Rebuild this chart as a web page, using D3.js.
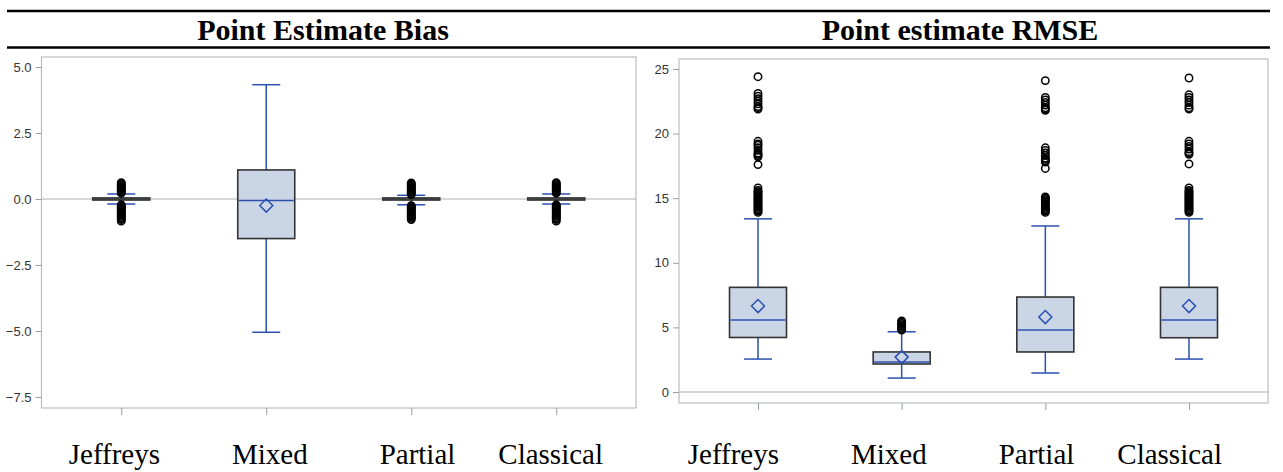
<!DOCTYPE html>
<html>
<head>
<meta charset="utf-8">
<script src="https://cdn.jsdelivr.net/npm/d3@7"></script>
<style>
  body { margin: 0; background: #fff; }
  svg { display: block; }
</style>
</head>
<body>
<script>
// categories shared by both panels
var categories = ["Jeffreys", "Mixed", "Partial", "Classical"];

// Point Estimate Bias (left)
var biasLow    = [-0.19, -5.05, -0.22, -0.19];
var biasQ1     = [-0.04, -1.50, -0.04, -0.04];
var biasMedian = [0.00, -0.06, 0.00, 0.00];
var biasMean   = [0.00, -0.25, 0.00, 0.00];
var biasQ3     = [0.04, 1.10, 0.04, 0.04];
var biasHigh   = [0.19, 4.33, 0.14, 0.19];
var biasOutliers = [
    [0.22, 0.26, 0.3, 0.34, 0.38, 0.42, 0.46, 0.5, 0.54, 0.58, 0.62,
     -0.22, -0.26, -0.3, -0.34, -0.38, -0.42, -0.46, -0.5, -0.54, -0.58, -0.62, -0.66, -0.7, -0.74, -0.78, -0.84],
    [],
    [0.17, 0.21, 0.25, 0.29, 0.33, 0.37, 0.41, 0.45, 0.49, 0.53, 0.57, 0.61,
     -0.25, -0.29, -0.33, -0.37, -0.41, -0.45, -0.49, -0.53, -0.57, -0.61, -0.65, -0.69, -0.73, -0.78],
    [0.22, 0.26, 0.3, 0.34, 0.38, 0.42, 0.46, 0.5, 0.54, 0.58, 0.62,
     -0.22, -0.26, -0.3, -0.34, -0.38, -0.42, -0.46, -0.5, -0.54, -0.58, -0.62, -0.66, -0.7, -0.74, -0.78, -0.84]
];
var biasTicks = [5.0, 2.5, 0, -2.5, -5.0, -7.5];

// Point estimate RMSE (right)
var rmseLow    = [2.55, 1.08, 1.47, 2.55];
var rmseQ1     = [4.22, 2.17, 3.10, 4.20];
var rmseMedian = [5.57, 2.32, 4.80, 5.57];
var rmseMean   = [6.65, 2.70, 5.80, 6.65];
var rmseQ3     = [8.10, 3.10, 7.35, 8.10];
var rmseHigh   = [13.40, 4.66, 12.85, 13.40];
var rmseOutliers = [
    [13.9, 14.0, 14.1, 14.2, 14.3, 14.4, 14.5, 14.6, 14.7, 14.8, 14.9, 15.0, 15.1, 15.2, 15.3, 15.4, 15.5, 15.6, 15.8,
     17.6, 18.2, 18.3, 18.4, 18.5, 18.7, 18.9, 19.1, 19.2, 19.4,
     21.9, 22.0, 22.1, 22.3, 22.5, 22.7, 22.9, 23.1, 24.4],
    [4.8, 4.9, 5.0, 5.1, 5.2, 5.3, 5.4, 5.5],
    [13.9, 14.0, 14.1, 14.2, 14.3, 14.4, 14.5, 14.6, 14.7, 14.8, 14.9, 15.0, 15.1,
     17.3, 17.8, 17.9, 18.0, 18.1, 18.3, 18.5, 18.7, 18.9,
     21.8, 21.9, 22.0, 22.2, 22.4, 22.6, 22.8, 24.1],
    [13.9, 14.0, 14.1, 14.2, 14.3, 14.4, 14.5, 14.6, 14.7, 14.8, 14.9, 15.0, 15.1, 15.2, 15.3, 15.4, 15.5, 15.6, 15.8,
     17.65, 18.4, 18.5, 18.6, 18.8, 19.0, 19.2, 19.4,
     21.9, 22.0, 22.2, 22.4, 22.6, 22.8, 23.0, 24.3]
];
var rmseTicks = [0, 5, 10, 15, 20, 25];

var w = 1283, h = 472;

var svg = d3.select("body")
    .append("svg")
    .attr("width", w)
    .attr("height", h);

//table rules across the top
svg.append("line")
    .attr("x1", 7).attr("x2", 1270)
    .attr("y1", 11).attr("y2", 11)
    .style("stroke", "#000").style("stroke-width", 2.5);
svg.append("line")
    .attr("x1", 7).attr("x2", 1270)
    .attr("y1", 47.5).attr("y2", 47.5)
    .style("stroke", "#000").style("stroke-width", 2.5);

var blue = "#2c50b0";

function rows(low, q1, med, mean, q3, high, outs) {
    return categories.map(function (c, i) {
        return { cat: c, low: low[i], q1: q1[i], med: med[i], mean: mean[i], q3: q3[i], high: high[i], outs: outs[i] };
    });
}

function drawPanel(opt) {
    var data = opt.data;
    var g = svg.append("g");

    //title
    g.append("text")
        .attr("x", opt.titleX)
        .attr("y", 40)
        .attr("text-anchor", "middle")
        .style("font-family", "'Liberation Serif', 'Times New Roman', serif")
        .style("font-weight", "bold")
        .style("font-size", "30px")
        .text(opt.title);

    var x = d3.scalePoint()
        .domain(categories)
        .range([opt.left, opt.right])
        .padding(0.55);

    var y = d3.scaleLinear()
        .domain(opt.domain)
        .range([opt.bottom, opt.top]);

    //frame
    g.append("rect")
        .attr("x", opt.left)
        .attr("y", opt.top)
        .attr("width", opt.right - opt.left)
        .attr("height", opt.bottom - opt.top)
        .style("fill", "none")
        .style("stroke", "#b9bdc1")
        .style("stroke-width", 1.2);

    //zero reference line
    g.append("line")
        .attr("x1", opt.left).attr("x2", opt.right)
        .attr("y1", y(0)).attr("y2", y(0))
        .style("stroke", "#a9adb1")
        .style("stroke-width", 1.2);

    //y axis
    var yAxis = d3.axisLeft(y)
        .tickValues(opt.ticks)
        .tickFormat(d3.format(opt.fmt))
        .tickSize(6)
        .tickPadding(4);
    var ya = g.append("g")
        .attr("transform", "translate(" + opt.left + ",0)")
        .call(yAxis);
    ya.select(".domain").remove();
    ya.selectAll("line").style("stroke", "#9a9ea2");
    ya.selectAll("text")
        .style("font-family", "'Liberation Sans', Arial, sans-serif")
        .style("font-size", "13px")
        .style("fill", "#333");

    //x axis ticks only
    var xAxis = d3.axisBottom(x).tickSize(7).tickFormat("");
    var xa = g.append("g")
        .attr("transform", "translate(0," + opt.bottom + ")")
        .call(xAxis);
    xa.select(".domain").remove();
    xa.selectAll("line").style("stroke", "#9a9ea2");

    //category labels row (right-aligned)
    var lx = d3.scalePoint()
        .domain(categories)
        .range(opt.labelRange);
    g.selectAll(".catLabel")
        .data(categories)
        .enter()
        .append("text")
        .attr("class", "catLabel")
        .attr("x", function (d) { return lx(d); })
        .attr("y", 464)
        .attr("text-anchor", "end")
        .style("font-family", "'Liberation Serif', 'Times New Roman', serif")
        .style("font-size", "29px")
        .text(function (d) { return d; });

    var bw = 57, cw = 28;

    var box = g.selectAll(".box")
        .data(data)
        .enter()
        .append("g")
        .attr("class", "box");

    //whiskers
    box.append("line")
        .attr("x1", function (d) { return x(d.cat); })
        .attr("x2", function (d) { return x(d.cat); })
        .attr("y1", function (d) { return y(d.high); })
        .attr("y2", function (d) { return y(d.q3); })
        .style("stroke", blue).style("stroke-width", 1.5);
    box.append("line")
        .attr("x1", function (d) { return x(d.cat); })
        .attr("x2", function (d) { return x(d.cat); })
        .attr("y1", function (d) { return y(d.q1); })
        .attr("y2", function (d) { return y(d.low); })
        .style("stroke", blue).style("stroke-width", 1.5);
    ["high", "low"].forEach(function (k) {
        box.append("line")
            .attr("x1", function (d) { return x(d.cat) - cw / 2; })
            .attr("x2", function (d) { return x(d.cat) + cw / 2; })
            .attr("y1", function (d) { return y(d[k]); })
            .attr("y2", function (d) { return y(d[k]); })
            .style("stroke", blue).style("stroke-width", 1.5);
    });

    //box
    box.append("rect")
        .attr("x", function (d) { return x(d.cat) - bw / 2; })
        .attr("y", function (d) { return y(d.q3); })
        .attr("width", bw)
        .attr("height", function (d) { return y(d.q1) - y(d.q3); })
        .style("fill", "#cad5e5")
        .style("stroke", "#333")
        .style("stroke-width", 1.6);

    //median
    box.append("line")
        .attr("x1", function (d) { return x(d.cat) - bw / 2 + 1; })
        .attr("x2", function (d) { return x(d.cat) + bw / 2 - 1; })
        .attr("y1", function (d) { return y(d.med); })
        .attr("y2", function (d) { return y(d.med); })
        .style("stroke", function (d) { return (y(d.q1) - y(d.q3)) < 5 ? "#333" : blue; })
        .style("stroke-width", 1.5);

    //mean diamond
    box.append("path")
        .attr("d", function (d) {
            var cx = x(d.cat), cy = y(d.mean), r = 6.5;
            return "M" + cx + "," + (cy - r) + "L" + (cx + r) + "," + cy + "L" + cx + "," + (cy + r) + "L" + (cx - r) + "," + cy + "Z";
        })
        .style("fill", "none")
        .style("stroke", blue)
        .style("stroke-width", 1.5)
        .style("display", function (d) { return (y(d.q1) - y(d.q3)) < 5 ? "none" : null; });

    //outliers, hollow so that dense runs merge into a solid bar
    box.selectAll(".out")
        .data(function (d) { return d.outs.map(function (v) { return { cat: d.cat, v: v }; }); })
        .enter()
        .append("circle")
        .attr("class", "out")
        .attr("cx", function (d) { return x(d.cat); })
        .attr("cy", function (d) { return y(d.v); })
        .attr("r", 3.7)
        .style("fill", "none")
        .style("stroke", "#000")
        .style("stroke-width", 1.5);
}

drawPanel({
    title: "Point Estimate Bias",
    titleX: 323,
    data: rows(biasLow, biasQ1, biasMedian, biasMean, biasQ3, biasHigh, biasOutliers),
    left: 41.5, right: 636, top: 57, bottom: 408,
    domain: [-7.92, 5.38],
    ticks: biasTicks,
    fmt: ".1f",
    labelRange: [160, 603]
});

drawPanel({
    title: "Point estimate RMSE",
    titleX: 960,
    data: rows(rmseLow, rmseQ1, rmseMedian, rmseMean, rmseQ3, rmseHigh, rmseOutliers),
    left: 679, right: 1268, top: 59, bottom: 403,
    domain: [-0.85, 25.77],
    ticks: rmseTicks,
    fmt: "d",
    labelRange: [779, 1222]
});
</script>
</body>
</html>
